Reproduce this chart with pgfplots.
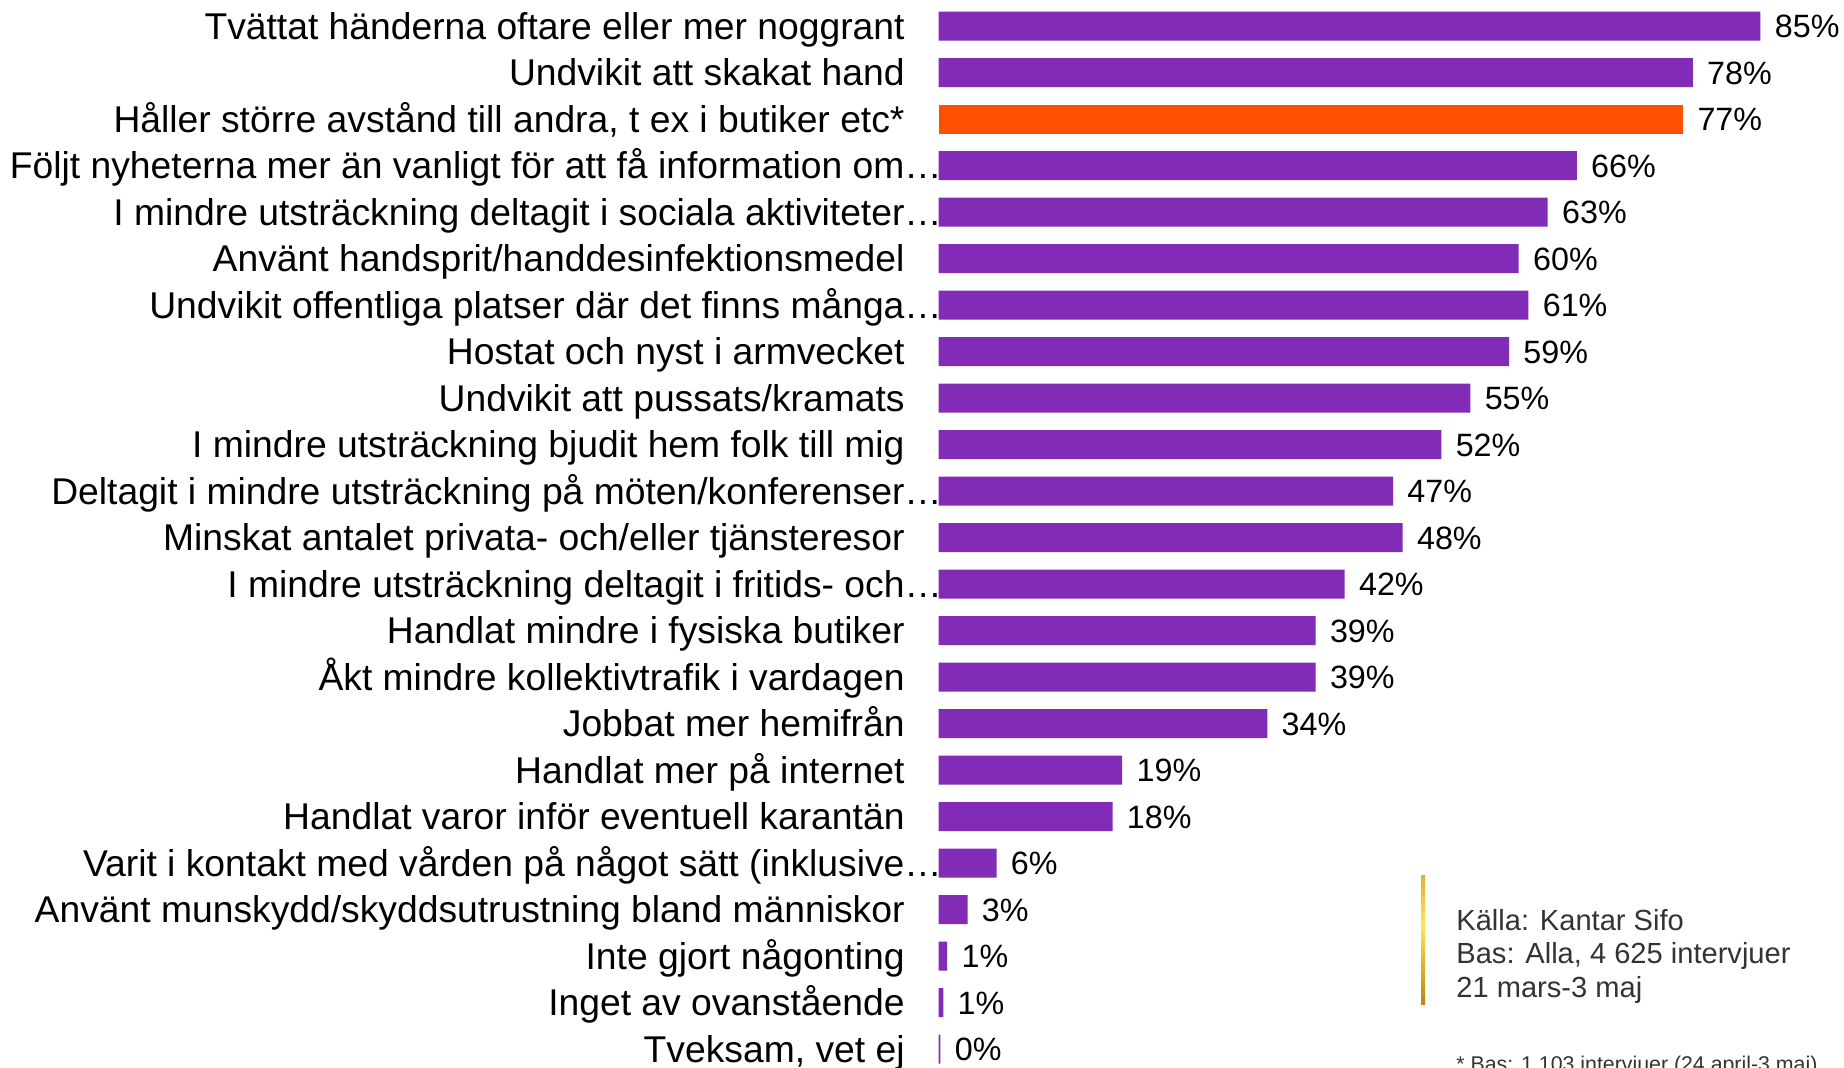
\documentclass[border=0pt]{standalone}
\usepackage{pgfplots}
\pgfplotsset{compat=1.18}
\usepackage{pgfplotstable}
\usepackage{fontspec}
\setmainfont{Liberation Sans}
\definecolor{barc}{HTML}{812BB6}
\definecolor{hlc}{HTML}{FF5000}
\definecolor{srcc}{HTML}{333333}
\definecolor{gb}{HTML}{B8860B}
\definecolor{gm}{HTML}{FBE35C}
\definecolor{gt}{HTML}{E3B03A}
\pgfdeclareverticalshading{goldbar}{100bp}{color(0bp)=(gb); color(25bp)=(gb); color(56bp)=(gm); color(75bp)=(gt); color(100bp)=(gt)}

\pgfplotstableread{
y x lab
0 85 85
1 78 78
3 66 66
4 63 63
5 60 60
6 61 61
7 59 59
8 55 55
9 52 52
10 47 47
11 48 48
12 42 42
13 39 39
14 39 39
15 34 34
16 19 19
17 18 18
18 6 6
19 3 3
20 0.9 1
21 0.5 1
22 0.2 0
}\maindata

\pgfplotstableread{
y x lab
2 77 77
}\hldata

\begin{document}
\begin{tikzpicture}
\useasboundingbox (0,0) rectangle (922bp,534bp);
\begin{axis}[
  at={(469.25bp,532.625bp)}, anchor=north west,
  scale only axis, width=411bp, height=534.75bp,
  xmin=0, xmax=85, ymin=-0.5, ymax=22.5, y dir=reverse,
  xbar, bar width=14.5bp, bar shift=0pt,
  clip=false,
  /pgf/number format/assume math mode=true,
  axis line style={draw=none},
  xtick=\empty,
  ytick={0,...,22},
  major tick length=0pt,
  yticklabels={
    Tvättat händerna oftare eller mer noggrant,
    Undvikit att skakat hand,
    {Håller större avstånd till andra, t ex i butiker etc*},
    {Följt nyheterna mer än vanligt för att få information om\rlap{…}},
    {I mindre utsträckning deltagit i sociala aktiviteter\rlap{…}},
    Använt handsprit/handdesinfektionsmedel,
    {Undvikit offentliga platser där det finns många\rlap{…}},
    Hostat och nyst i armvecket,
    Undvikit att pussats/kramats,
    I mindre utsträckning bjudit hem folk till mig,
    {Deltagit i mindre utsträckning på möten/konferenser\rlap{…}},
    Minskat antalet privata- och/eller tjänsteresor,
    {I mindre utsträckning deltagit i fritids- och\rlap{…}},
    Handlat mindre i fysiska butiker,
    Åkt mindre kollektivtrafik i vardagen,
    Jobbat mer hemifrån,
    Handlat mer på internet,
    Handlat varor inför eventuell karantän,
    {Varit i kontakt med vården på något sätt (inklusive\rlap{…}},
    Använt munskydd/skyddsutrustning bland människor,
    Inte gjort någonting,
    Inget av ovanstående,
    {Tveksam, vet ej}
  },
  yticklabel style={anchor=base east, inner sep=0pt, xshift=-16.75bp, yshift=-6.7bp,
    font=\fontsize{18.7}{18.7}\selectfont, text=black},
  point meta=explicit,
  nodes near coords={\pgfmathprintnumber[assume math mode=true]{\pgfplotspointmeta}\%},
  every node near coord/.append style={anchor=base west, inner sep=0pt,
    xshift=7bp, yshift=-5.8bp, font=\fontsize{16.2}{16.2}\selectfont, text=black},
]
\addplot[draw=none, fill=barc] table[x=x, y=y, meta=lab] {\maindata};
\addplot[draw=none, fill=hlc] table[x=x, y=y, meta=lab] {\hldata};
\end{axis}
\shade[shading=goldbar] (710.5bp,31.5bp) rectangle (712.5bp,96bp);
\node[anchor=base west, inner sep=0pt, text=srcc, font=\fontsize{14.6}{14.6}\selectfont] at (728bp,68.5bp) {Källa: Kantar Sifo};
\node[anchor=base west, inner sep=0pt, text=srcc, font=\fontsize{14.6}{14.6}\selectfont] at (728bp,52bp) {Bas: Alla, 4 625 intervjuer};
\node[anchor=base west, inner sep=0pt, text=srcc, font=\fontsize{14.6}{14.6}\selectfont] at (728bp,35.5bp) {21 mars-3 maj};
\node[anchor=base west, inner sep=0pt, text=srcc, font=\fontsize{10.7}{10.7}\selectfont] at (728bp,-1.5bp) {* Bas: 1 103 intervjuer (24 april-3 maj)};
\end{tikzpicture}
\end{document}
